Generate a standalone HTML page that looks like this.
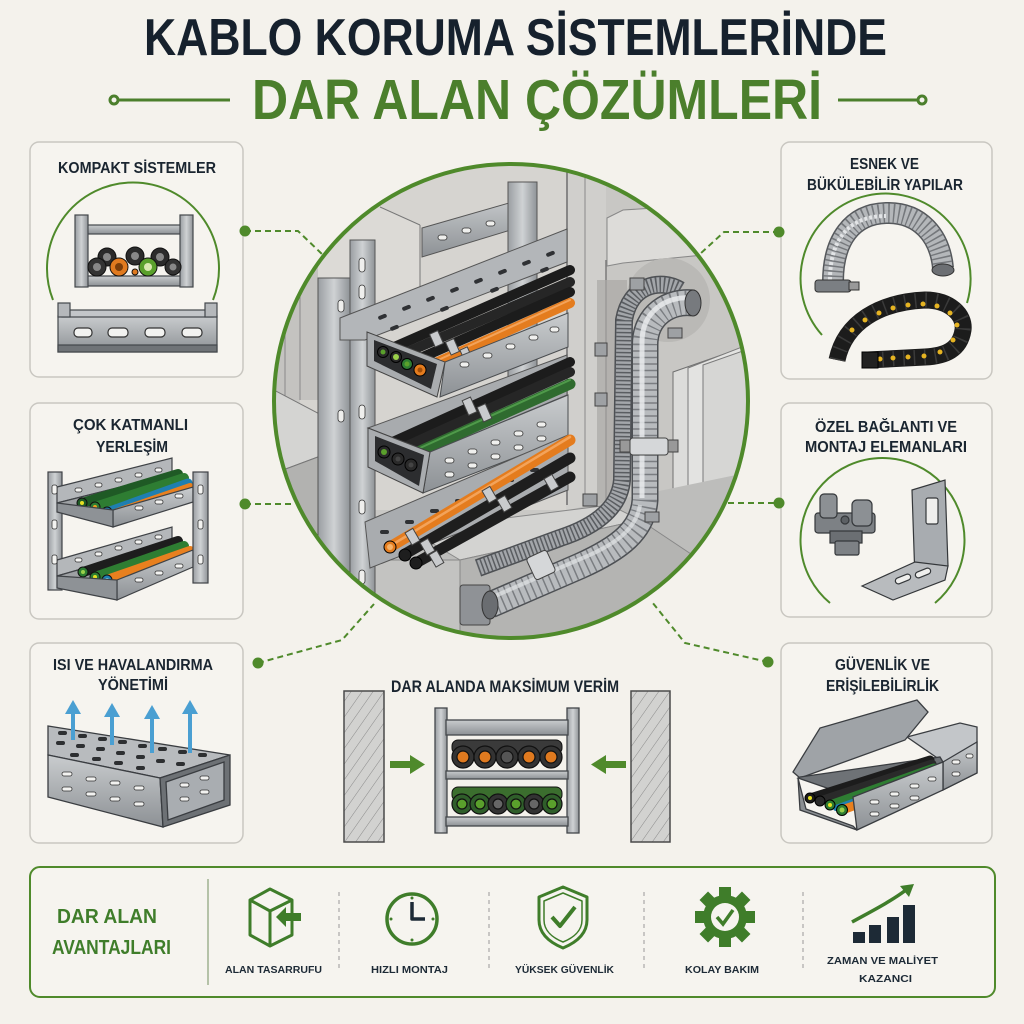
<!DOCTYPE html>
<html><head><meta charset="utf-8">
<style>
html,body{margin:0;padding:0;background:#f4f2ec;}
svg{display:block}
text{font-family:"Liberation Sans",sans-serif;font-weight:bold}
</style></head><body>
<svg width="1024" height="1024" viewBox="0 0 1024 1024" xmlns="http://www.w3.org/2000/svg">
<defs>
 <clipPath id="cc"><circle cx="511" cy="401" r="237"/></clipPath>
 <linearGradient id="metal" x1="0" y1="0" x2="0" y2="1"><stop offset="0" stop-color="#c9ccce"/><stop offset="1" stop-color="#8d9195"/></linearGradient>
 <linearGradient id="metalH" x1="0" y1="0" x2="1" y2="0"><stop offset="0" stop-color="#9a9ea2"/><stop offset=".5" stop-color="#cfd2d4"/><stop offset="1" stop-color="#8f9397"/></linearGradient>
 <pattern id="hatch" width="9" height="9" patternUnits="userSpaceOnUse" patternTransform="rotate(35)"><rect width="9" height="9" fill="#d2d2d0"/><line x1="0" y1="0" x2="0" y2="9" stroke="#8a8a8a" stroke-width="1"/></pattern>
</defs>
<rect width="1024" height="1024" fill="#f4f2ec"/>

<!-- TITLE -->
<text x="144" y="55" font-size="52" fill="#16212d" textLength="743" lengthAdjust="spacingAndGlyphs">KABLO KORUMA SİSTEMLERİNDE</text>
<text x="252" y="119" font-size="57" fill="#4b7f2c" textLength="570" lengthAdjust="spacingAndGlyphs">DAR ALAN ÇÖZÜMLERİ</text>
<g stroke="#4b7f2c" stroke-width="3" fill="#f4f2ec">
 <line x1="118" y1="100" x2="230" y2="100"/><circle cx="114" cy="100" r="4"/>
 <line x1="838" y1="100" x2="918" y2="100"/><circle cx="922" cy="100" r="4"/>
</g>

<!-- BOXES -->
<g fill="#f6f4ef" stroke="#c9c7c1" stroke-width="1.5">
 <rect x="30" y="142" width="213" height="235" rx="9"/>
 <rect x="30" y="403" width="213" height="216" rx="9"/>
 <rect x="30" y="643" width="213" height="200" rx="9"/>
 <rect x="781" y="142" width="211" height="237" rx="9"/>
 <rect x="781" y="403" width="211" height="214" rx="9"/>
 <rect x="781" y="643" width="211" height="200" rx="9"/>
</g>
<rect x="30" y="867" width="965" height="130" rx="10" fill="#f6f4ef" stroke="#4f8a2b" stroke-width="2"/>

<!-- CONNECTORS -->
<g stroke="#4f8a2b" stroke-width="2" stroke-dasharray="6 4" fill="none">
 <path d="M245,231 L298,231 L324,256"/>
 <path d="M779,232 L724,232 L700,254"/>
 <path d="M245,504 L294,504"/>
 <path d="M728,503 L779,503"/>
 <path d="M258,663 L342,640 L374,604"/>
 <path d="M768,662 L685,643 L652,602"/>
</g>
<g fill="#4f8a2b">
 <circle cx="245" cy="231" r="5.5"/><circle cx="779" cy="232" r="5.5"/>
 <circle cx="245" cy="504" r="5.5"/><circle cx="779" cy="503" r="5.5"/>
 <circle cx="258" cy="663" r="5.5"/><circle cx="768" cy="662" r="5.5"/>
</g>

<!-- PANEL TITLES -->
<g fill="#1a2530" font-size="16">
 <text x="58" y="173" textLength="158" lengthAdjust="spacingAndGlyphs">KOMPAKT SİSTEMLER</text>
 <text x="73" y="430" textLength="115" lengthAdjust="spacingAndGlyphs">ÇOK KATMANLI</text>
 <text x="96" y="452" textLength="72" lengthAdjust="spacingAndGlyphs">YERLEŞİM</text>
 <text x="53" y="670" textLength="160" lengthAdjust="spacingAndGlyphs">ISI VE HAVALANDIRMA</text>
 <text x="98" y="690" textLength="70" lengthAdjust="spacingAndGlyphs">YÖNETİMİ</text>
 <text x="850" y="169" textLength="69" lengthAdjust="spacingAndGlyphs">ESNEK VE</text>
 <text x="807" y="190" textLength="156" lengthAdjust="spacingAndGlyphs">BÜKÜLEBİLİR YAPILAR</text>
 <text x="815" y="432" textLength="142" lengthAdjust="spacingAndGlyphs">ÖZEL BAĞLANTI VE</text>
 <text x="805" y="452" textLength="162" lengthAdjust="spacingAndGlyphs">MONTAJ ELEMANLARI</text>
 <text x="835" y="670" textLength="95" lengthAdjust="spacingAndGlyphs">GÜVENLİK VE</text>
 <text x="826" y="691" textLength="113" lengthAdjust="spacingAndGlyphs">ERİŞİLEBİLİRLİK</text>
 <text x="391" y="692" font-size="17" textLength="228" lengthAdjust="spacingAndGlyphs">DAR ALANDA MAKSİMUM VERİM</text>
</g>

<!-- ===== LEFT BOX 1: KOMPAKT ===== -->
<path d="M53,300 A86,86 0 1,1 213,300" fill="none" stroke="#4f8a2b" stroke-width="2"/>
<g stroke="#43474b" stroke-width="1.2">
 <rect x="86" y="225" width="96" height="9" fill="url(#metal)"/>
 <rect x="86" y="276" width="96" height="10" fill="url(#metal)"/>
 <rect x="75" y="215" width="13" height="72" fill="url(#metalH)"/>
 <rect x="180" y="215" width="13" height="72" fill="url(#metalH)"/>
</g>
<g stroke="#111" stroke-width="1">
 <circle cx="107" cy="257" r="9" fill="#2b2b2b"/><circle cx="135" cy="256" r="9" fill="#2b2b2b"/><circle cx="160" cy="257" r="9" fill="#2b2b2b"/>
 <circle cx="97" cy="267" r="9" fill="#333"/><circle cx="119" cy="267" r="9" fill="#e07a1f"/>
 <circle cx="148" cy="267" r="9" fill="#5aa02c"/><circle cx="173" cy="267" r="8" fill="#333"/>
 <circle cx="135" cy="272" r="3" fill="#e07a1f"/>
</g>
<g fill="#888"><circle cx="97" cy="267" r="4"/><circle cx="107" cy="257" r="4"/><circle cx="135" cy="256" r="4"/><circle cx="160" cy="257" r="4"/><circle cx="173" cy="267" r="3.5"/></g>
<circle cx="119" cy="267" r="4" fill="#7a3d0a"/><circle cx="148" cy="267" r="4" fill="#d9e8b0"/>
<g stroke="#43474b" stroke-width="1.2">
 <rect x="58" y="316" width="159" height="36" fill="url(#metal)"/>
 <rect x="62" y="310" width="151" height="7" fill="#c3c6c9"/>
 <rect x="58" y="303" width="12" height="14" fill="#b5b8bb"/>
 <rect x="205" y="303" width="12" height="14" fill="#b5b8bb"/>
 <rect x="58" y="345" width="159" height="7" fill="#6f7377"/>
</g>
<g fill="#f2f2f0" stroke="#333" stroke-width="1.2">
 <rect x="74" y="328" width="18" height="9" rx="4"/><rect x="108" y="328" width="20" height="9" rx="4"/>
 <rect x="145" y="328" width="20" height="9" rx="4"/><rect x="182" y="328" width="20" height="9" rx="4"/>
</g>

<!-- ===== LEFT BOX 2: ÇOK KATMANLI ===== -->
<g stroke="#3f4246" stroke-width="1.2">
 <rect x="48" y="472" width="14" height="118" fill="url(#metalH)"/>
 <polygon points="57,487 172,458 172,474 57,503" fill="#b4b7ba"/>
 <polygon points="57,503 172,474 193,487 113,512" fill="#9ea1a4"/>
</g>
<g stroke-linecap="round">
 <line x1="82" y1="503" x2="178" y2="474" stroke="#1f5a25" stroke-width="10"/>
 <line x1="95" y1="507" x2="184" y2="478" stroke="#2e7d32" stroke-width="10"/>
 <line x1="107" y1="512" x2="188" y2="483" stroke="#1f7fb0" stroke-width="9"/>
 <line x1="112" y1="514" x2="190" y2="487" stroke="#e8801f" stroke-width="8"/>
</g>
<circle cx="82" cy="503" r="5" fill="#1f5a25" stroke="#111"/><circle cx="82" cy="503" r="2" fill="#e6e022"/>
<circle cx="95" cy="507" r="5" fill="#2e7d32" stroke="#111"/><circle cx="95" cy="507" r="2" fill="#f0a020"/>
<circle cx="107" cy="512" r="5" fill="#1f7fb0" stroke="#111"/><circle cx="107" cy="512" r="2" fill="#7fd0e0"/>
<g stroke="#3f4246" stroke-width="1.2">
 <polygon points="113,510 193,487 193,502 113,527" fill="url(#metal)"/>
 <polygon points="57,503 113,510 113,527 57,512" fill="#8e9296"/>
 <polygon points="57,560 172,527 172,543 57,576" fill="#b4b7ba"/>
 <polygon points="57,576 172,543 193,552 117,582" fill="#9ea1a4"/>
</g>
<g stroke-linecap="round">
 <line x1="83" y1="572" x2="178" y2="541" stroke="#1d1d1d" stroke-width="10"/>
 <line x1="95" y1="577" x2="184" y2="546" stroke="#2e7d32" stroke-width="10"/>
 <line x1="107" y1="580" x2="190" y2="551" stroke="#e8801f" stroke-width="10"/>
</g>
<circle cx="83" cy="572" r="5" fill="#2e7d32" stroke="#111"/><circle cx="83" cy="572" r="2" fill="#9ad04a"/>
<circle cx="95" cy="577" r="5" fill="#2e7d32" stroke="#111"/><circle cx="95" cy="577" r="2" fill="#e6e022"/>
<circle cx="107" cy="580" r="5" fill="#1f7fb0" stroke="#111"/><circle cx="107" cy="580" r="2" fill="#7fd0e0"/>
<g stroke="#3f4246" stroke-width="1.2">
 <polygon points="117,580 193,550 193,567 117,600" fill="url(#metal)"/>
 <polygon points="57,576 117,580 117,600 57,588" fill="#8e9296"/>
 <rect x="193" y="472" width="15" height="111" fill="url(#metalH)"/>
</g>
<g fill="#f3f3f1" stroke="#333" stroke-width=".8">
 <rect x="75" y="488" width="7" height="4" rx="2"/><rect x="95" y="483" width="7" height="4" rx="2"/><rect x="115" y="478" width="7" height="4" rx="2"/><rect x="135" y="473" width="7" height="4" rx="2"/><rect x="155" y="468" width="7" height="4" rx="2"/>
 <rect x="135" y="506" width="8" height="4" rx="2"/><rect x="155" y="500" width="8" height="4" rx="2"/><rect x="175" y="494" width="8" height="4" rx="2"/>
 <rect x="75" y="558" width="7" height="4" rx="2"/><rect x="95" y="552" width="7" height="4" rx="2"/><rect x="115" y="546" width="7" height="4" rx="2"/><rect x="135" y="540" width="7" height="4" rx="2"/><rect x="155" y="535" width="7" height="4" rx="2"/>
 <rect x="135" y="578" width="8" height="4" rx="2"/><rect x="155" y="571" width="8" height="4" rx="2"/><rect x="175" y="564" width="8" height="4" rx="2"/>
 <rect x="52" y="485" width="5" height="9" rx="2"/><rect x="52" y="520" width="5" height="9" rx="2"/><rect x="52" y="555" width="5" height="9" rx="2"/>
 <rect x="198" y="485" width="5" height="9" rx="2"/><rect x="198" y="520" width="5" height="9" rx="2"/><rect x="198" y="555" width="5" height="9" rx="2"/>
</g>

<!-- ===== LEFT BOX 3: ISI ===== -->
<g stroke="#3a3d41" stroke-width="1.3">
 <polygon points="48,726 230,755 160,778 48,755" fill="#b8bbbe"/>
 <polygon points="48,755 160,778 163,827 48,797" fill="url(#metal)"/>
 <polygon points="160,778 230,755 230,805 163,827" fill="#6d7175"/>
 <polygon points="166,782 224,762 224,800 168,820" fill="#a9adb1"/>
</g>
<g fill="#2d2f31">
 <rect x="58" y="731" width="9" height="4" rx="2"/><rect x="78" y="734" width="9" height="4" rx="2"/><rect x="98" y="737" width="9" height="4" rx="2"/><rect x="118" y="740" width="9" height="4" rx="2"/><rect x="138" y="744" width="9" height="4" rx="2"/><rect x="158" y="747" width="9" height="4" rx="2"/><rect x="178" y="750" width="9" height="4" rx="2"/><rect x="198" y="753" width="9" height="4" rx="2"/>
 <rect x="56" y="741" width="9" height="4" rx="2"/><rect x="76" y="744" width="9" height="4" rx="2"/><rect x="96" y="747" width="9" height="4" rx="2"/><rect x="116" y="751" width="9" height="4" rx="2"/><rect x="136" y="755" width="9" height="4" rx="2"/><rect x="156" y="759" width="9" height="4" rx="2"/><rect x="176" y="762" width="9" height="4" rx="2"/>
 <rect x="70" y="753" width="9" height="4" rx="2"/><rect x="92" y="757" width="9" height="4" rx="2"/><rect x="114" y="761" width="9" height="4" rx="2"/><rect x="136" y="766" width="9" height="4" rx="2"/>
</g>
<g fill="#f2f2f0" stroke="#333" stroke-width=".8">
 <rect x="62" y="772" width="10" height="4" rx="2"/><rect x="86" y="777" width="10" height="4" rx="2"/><rect x="110" y="781" width="10" height="4" rx="2"/><rect x="134" y="786" width="10" height="4" rx="2"/>
 <rect x="62" y="787" width="10" height="4" rx="2"/><rect x="86" y="792" width="10" height="4" rx="2"/><rect x="110" y="797" width="10" height="4" rx="2"/><rect x="134" y="802" width="10" height="4" rx="2"/>
 <rect x="180" y="783" width="9" height="4" rx="2"/><rect x="200" y="776" width="9" height="4" rx="2"/><rect x="180" y="797" width="9" height="4" rx="2"/><rect x="200" y="790" width="9" height="4" rx="2"/>
</g>
<g fill="#4a9fd2">
 <rect x="71" y="712" width="4" height="28"/><polygon points="65,714 73,700 81,714"/>
 <rect x="110" y="715" width="4" height="30"/><polygon points="104,717 112,703 120,717"/>
 <rect x="150" y="717" width="4" height="36"/><polygon points="144,719 152,705 160,719"/>
 <rect x="188" y="712" width="4" height="41"/><polygon points="182,714 190,700 198,714"/>
</g>

<!-- ===== RIGHT BOX 1: ESNEK ===== -->
<path d="M822,335 A85,85 0 1,1 967,303" fill="none" stroke="#4f8a2b" stroke-width="2"/>
<path d="M833,282 C833,240 852,214 886,213 C920,212 940,236 943,268" fill="none" stroke="#55585c" stroke-width="22"/>
<path d="M833,282 C833,240 852,214 886,213 C920,212 940,236 943,268" fill="none" stroke="#b4b7ba" stroke-width="19"/>
<path d="M833,282 C833,240 852,214 886,213 C920,212 940,236 943,268" fill="none" stroke="#75787c" stroke-width="19" stroke-dasharray="1.5 3.5"/>
<path d="M830,280 C830,238 850,216 886,216" fill="none" stroke="#e2e4e6" stroke-width="4" stroke-dasharray="3 2"/>
<ellipse cx="943" cy="270" rx="11" ry="6" fill="#6c6f73" stroke="#333"/>
<rect x="815" y="280" width="36" height="12" rx="3" fill="#7b7f83" stroke="#333"/>
<rect x="849" y="282" width="10" height="8" fill="#999" stroke="#333"/>
<path d="M837,360 C845,322 880,302 925,300 C950,300 965,315 963,330 C960,350 945,356 925,357 L868,360" fill="none" stroke="#1c1c1c" stroke-width="17"/>
<path d="M837,360 C845,322 880,302 925,300 C950,300 965,315 963,330 C960,350 945,356 925,357 L868,360" fill="none" stroke="#3a3a3a" stroke-width="15" stroke-dasharray="1.5 9"/>
<g fill="#e6b422">
 <circle cx="852" cy="330" r="2.5"/><circle cx="865" cy="320" r="2.5"/><circle cx="879" cy="313" r="2.5"/><circle cx="893" cy="308" r="2.5"/><circle cx="908" cy="305" r="2.5"/><circle cx="923" cy="304" r="2.5"/><circle cx="937" cy="306" r="2.5"/><circle cx="950" cy="313" r="2.5"/><circle cx="957" cy="325" r="2.5"/><circle cx="953" cy="340" r="2.5"/><circle cx="940" cy="352" r="2.5"/><circle cx="924" cy="356" r="2.5"/><circle cx="908" cy="357" r="2.5"/><circle cx="893" cy="358" r="2.5"/><circle cx="880" cy="359" r="2.5"/>
</g>
<rect x="862" y="352" width="16" height="16" fill="#222" stroke="#000"/>

<!-- ===== RIGHT BOX 2: ÖZEL ===== -->
<path d="M830,603 A82,82 0 1,1 935,603" fill="none" stroke="#4f8a2b" stroke-width="2"/>
<g stroke="#34373a" stroke-width="1.2">
 <rect x="815" y="513" width="60" height="20" rx="3" fill="#7d8185"/>
 <rect x="820" y="494" width="17" height="24" rx="4" fill="#8c9094"/>
 <rect x="852" y="500" width="20" height="26" rx="5" fill="#8c9094"/>
 <rect x="830" y="531" width="32" height="12" fill="#6b6f73"/>
 <rect x="835" y="541" width="24" height="14" rx="2" fill="#7d8185"/>
 <circle cx="845" cy="520" r="4" fill="#5c6064"/>
 <polygon points="912,490 945,480 948,566 915,580" fill="#a8acb0"/>
 <rect x="926" y="498" width="12" height="26" rx="2" fill="#efefed"/>
 <polygon points="862,586 915,562 948,566 945,580 893,600" fill="#b8bbbe"/>
 <rect x="895" y="576" width="16" height="6" rx="3" fill="#efefed" transform="rotate(-22 903 579)"/>
 <rect x="915" y="570" width="16" height="6" rx="3" fill="#efefed" transform="rotate(-22 923 573)"/>
</g>

<!-- ===== RIGHT BOX 3: GÜVENLİK ===== -->
<g stroke="#3a3d41" stroke-width="1.3">
 <polygon points="907,737 960,723 977,727 977,773 943,790 943,762" fill="#c3c6c9"/>
 <polygon points="943,762 977,742 977,773 943,790" fill="url(#metal)"/>
 <polygon points="793,772 820,728 917,700 928,712 905,740 800,778" fill="#9fa3a7"/>
 <polygon points="800,777 940,757 943,762 853,797 798,778" fill="#6e7276"/>
</g>
<g stroke-linecap="round">
 <line x1="810" y1="798" x2="930" y2="760" stroke="#1c1c1c" stroke-width="9"/>
 <line x1="820" y1="801" x2="932" y2="764" stroke="#2a2a2a" stroke-width="9"/>
 <line x1="830" y1="805" x2="934" y2="768" stroke="#2e7d32" stroke-width="9"/>
 <line x1="836" y1="808" x2="936" y2="772" stroke="#1f7fb0" stroke-width="6"/>
 <line x1="842" y1="810" x2="938" y2="776" stroke="#e8801f" stroke-width="9"/>
</g>
<circle cx="810" cy="798" r="5" fill="#1c1c1c" stroke="#000"/><circle cx="810" cy="798" r="2" fill="#e6e022"/>
<circle cx="820" cy="801" r="5" fill="#2a2a2a" stroke="#000"/>
<circle cx="830" cy="805" r="5" fill="#2e7d32" stroke="#000"/><circle cx="830" cy="805" r="2" fill="#e6e022"/>
<circle cx="842" cy="810" r="5.5" fill="#2e7d32" stroke="#000"/><circle cx="842" cy="810" r="2.5" fill="#9ad04a"/>
<g stroke="#3a3d41" stroke-width="1.3">
 <polygon points="853,797 943,762 943,790 857,830" fill="url(#metal)"/>
 <polygon points="798,778 800,810 857,830 853,826 806,809" fill="#8a8e92"/>
</g>
<g fill="#f2f2f0" stroke="#333" stroke-width=".8">
 <rect x="870" y="800" width="9" height="4" rx="2"/><rect x="890" y="792" width="9" height="4" rx="2"/><rect x="910" y="784" width="9" height="4" rx="2"/><rect x="928" y="777" width="8" height="4" rx="2"/>
 <rect x="870" y="812" width="9" height="4" rx="2"/><rect x="890" y="804" width="9" height="4" rx="2"/><rect x="910" y="796" width="9" height="4" rx="2"/>
 <rect x="952" y="760" width="8" height="4" rx="2"/><rect x="952" y="772" width="8" height="4" rx="2"/><rect x="966" y="754" width="7" height="4" rx="2"/>
</g>

<!-- ===== CENTER BOTTOM: MAKSİMUM VERİM ===== -->
<rect x="344" y="691" width="40" height="151" fill="url(#hatch)" stroke="#4a4a4a" stroke-width="1.5"/>
<rect x="631" y="691" width="39" height="151" fill="url(#hatch)" stroke="#4a4a4a" stroke-width="1.5"/>
<g fill="#4f8a2b">
 <rect x="390" y="761" width="22" height="7"/><polygon points="410,755 425,764.5 410,774"/>
 <rect x="604" y="761" width="22" height="7"/><polygon points="606,755 591,764.5 606,774"/>
</g>
<g stroke="#43474b" stroke-width="1.3">
 <rect x="435" y="708" width="12" height="125" fill="url(#metalH)"/>
 <rect x="567" y="708" width="12" height="125" fill="url(#metalH)"/>
 <rect x="446" y="720" width="122" height="15" fill="url(#metal)"/>
 <rect x="446" y="771" width="122" height="8" fill="url(#metal)"/>
 <rect x="446" y="817" width="122" height="9" fill="url(#metal)"/>
</g>
<g stroke="#111" stroke-width="1">
 <rect x="452" y="740" width="110" height="14" rx="6" fill="#3a3a3a"/>
 <rect x="452" y="787" width="110" height="14" rx="6" fill="#3b6e2e"/>
</g>
<g stroke="#111" stroke-width="1.2">
 <circle cx="463" cy="757" r="11" fill="#333"/><circle cx="485" cy="757" r="11" fill="#333"/><circle cx="507" cy="757" r="11" fill="#333"/><circle cx="529" cy="757" r="11" fill="#333"/><circle cx="551" cy="757" r="11" fill="#333"/>
 <circle cx="463" cy="757" r="6" fill="#e07a1f"/><circle cx="485" cy="757" r="6" fill="#e07a1f"/><circle cx="507" cy="757" r="6" fill="#555"/><circle cx="529" cy="757" r="6" fill="#e07a1f"/><circle cx="551" cy="757" r="6" fill="#e07a1f"/>
 <circle cx="462" cy="804" r="10" fill="#2f5e2a"/><circle cx="480" cy="804" r="10" fill="#2f5e2a"/><circle cx="498" cy="804" r="10" fill="#333"/><circle cx="516" cy="804" r="10" fill="#2f5e2a"/><circle cx="534" cy="804" r="10" fill="#333"/><circle cx="552" cy="804" r="10" fill="#2f5e2a"/>
 <circle cx="462" cy="804" r="5" fill="#5aa02c"/><circle cx="480" cy="804" r="5" fill="#5aa02c"/><circle cx="498" cy="804" r="5" fill="#666"/><circle cx="516" cy="804" r="5" fill="#5aa02c"/><circle cx="534" cy="804" r="5" fill="#666"/><circle cx="552" cy="804" r="5" fill="#5aa02c"/>
</g>

<!-- ===== CENTRAL CIRCLE ===== -->
<g clip-path="url(#cc)">
 <rect x="270" y="160" width="485" height="485" fill="#c9c8c5"/>
 <rect x="300" y="160" width="268" height="350" fill="#d6d4d0"/>
 <polygon points="300,160 380,207 420,225 420,300 300,300" fill="#dcdad6"/>
 <line x1="380" y1="207" x2="420" y2="225" stroke="#777" stroke-width="1"/>
 <line x1="420" y1="225" x2="420" y2="290" stroke="#777" stroke-width="1"/>
 <rect x="270" y="160" width="48" height="240" fill="#c4c3c0"/>
 <line x1="285" y1="240" x2="285" y2="400" stroke="#8a8a8a"/><line x1="300" y1="230" x2="300" y2="400" stroke="#8a8a8a"/>
 <polygon points="270,388 350,430 350,445 283,470 270,462" fill="#d4d4d2" stroke="#777"/>
 <polygon points="283,470 350,445 350,645 283,645" fill="#b2b2b0" stroke="#777"/>
 <polygon points="270,462 283,470 283,645 270,645" fill="#a5a5a3"/>
 <rect x="566" y="150" width="40" height="360" fill="#d0cfcc"/>
 <line x1="567" y1="150" x2="567" y2="505" stroke="#6f6f6f" stroke-width="1.5"/>
 <line x1="585" y1="150" x2="585" y2="505" stroke="#8a8a8a" stroke-width="1"/>
 <rect x="606" y="150" width="150" height="420" fill="#c8c7c4"/>
 <line x1="606" y1="260" x2="606" y2="560" stroke="#7a7a7a" stroke-width="1.5"/>
 <polygon points="607,218 623,210 703,205 703,255 623,263 607,266" fill="#dddcd9" stroke="#888"/>
 <ellipse cx="668" cy="300" rx="42" ry="42" fill="#bab9b6"/>
 <path d="M612,280 L612,520 Q612,540 600,545 L560,560" fill="none" stroke="#a9a8a5" stroke-width="30" opacity=".7"/>
 <polygon points="673,372 750,345 760,345 760,600 673,580" fill="#dcdcda" stroke="#6f6f6f"/>
 <polygon points="688,368 760,340 760,600 688,583" fill="#e3e3e1" stroke="#7a7a7a"/>
 <polygon points="703,365 760,345 760,600 703,588" fill="#d6d6d4" stroke="#7a7a7a"/>
 <polygon points="370,540 520,520 760,470 760,645 370,645" fill="#bdbdbb"/>
 <polygon points="410,530 610,505 640,520 460,560" fill="#d3d3d1" stroke="#888"/>
 <polygon points="370,560 460,560 460,645 370,645" fill="#c3c3c1" stroke="#888"/>
 <polygon points="460,560 640,520 700,560 700,645 460,645" fill="#b4b4b2" stroke="#888"/>
 <polygon points="422,228 537,195 537,222 422,257" fill="url(#metal)" stroke="#555"/>
 <g fill="#efefed" stroke="#333" stroke-width=".8"><rect x="438" y="235" width="9" height="5" rx="2.5"/><rect x="462" y="228" width="9" height="5" rx="2.5"/><rect x="486" y="221" width="9" height="5" rx="2.5"/><rect x="510" y="214" width="9" height="5" rx="2.5"/></g>
 <rect x="508" y="182" width="29" height="200" fill="url(#metalH)" stroke="#555"/>
 <rect x="318" y="278" width="32" height="360" fill="url(#metalH)" stroke="#555"/>
 <rect x="350" y="240" width="25" height="380" fill="url(#metalH)" stroke="#555"/>
 <g fill="#efefed" stroke="#333" stroke-width=".8">
  <rect x="359" y="258" width="6" height="14" rx="3"/><rect x="359" y="285" width="6" height="14" rx="3"/><rect x="359" y="405" width="6" height="14" rx="3"/><rect x="359" y="500" width="6" height="14" rx="3"/><rect x="359" y="570" width="6" height="14" rx="3"/>
  <rect x="338" y="300" width="6" height="12" rx="3"/><rect x="338" y="410" width="6" height="12" rx="3"/>
 </g>
 <!-- TRAY 1 -->
 <polygon points="340,318 567,229 567,262 365,340 340,340" fill="#b3b6b9" stroke="#555"/>
 <g fill="#2f3134"><rect x="378" y="315" width="9" height="4" rx="2" transform="rotate(-21 382 317)"/><rect x="402" y="306" width="9" height="4" rx="2" transform="rotate(-21 406 308)"/><rect x="426" y="297" width="9" height="4" rx="2" transform="rotate(-21 430 299)"/><rect x="450" y="288" width="9" height="4" rx="2" transform="rotate(-21 454 290)"/><rect x="474" y="279" width="9" height="4" rx="2" transform="rotate(-21 478 281)"/><rect x="498" y="270" width="9" height="4" rx="2" transform="rotate(-21 502 272)"/><rect x="522" y="261" width="9" height="4" rx="2" transform="rotate(-21 526 263)"/><rect x="546" y="252" width="9" height="4" rx="2" transform="rotate(-21 550 254)"/>
 <rect x="390" y="326" width="9" height="4" rx="2" transform="rotate(-21 394 328)"/><rect x="440" y="307" width="9" height="4" rx="2" transform="rotate(-21 444 309)"/><rect x="490" y="288" width="9" height="4" rx="2" transform="rotate(-21 494 290)"/><rect x="540" y="268" width="9" height="4" rx="2" transform="rotate(-21 544 270)"/></g>
 <g stroke-linecap="round">
  <line x1="383" y1="352" x2="570" y2="270" stroke="#1c1c1c" stroke-width="10"/>
  <line x1="396" y1="357" x2="570" y2="282" stroke="#262626" stroke-width="10"/>
  <line x1="407" y1="364" x2="570" y2="292" stroke="#1c1c1c" stroke-width="10"/>
  <line x1="420" y1="370" x2="570" y2="303" stroke="#e47c1e" stroke-width="10"/>
  <line x1="425" y1="366" x2="570" y2="300" stroke="#f3a35a" stroke-width="2"/>
 </g>
 <g fill="#c9cbcd" stroke="#444" stroke-width="1"><rect x="432" y="332" width="9" height="14" transform="rotate(-24 436 339)"/><rect x="448" y="340" width="9" height="14" transform="rotate(-24 452 347)"/><rect x="462" y="348" width="8" height="13" transform="rotate(-24 466 354)"/></g>
 <polygon points="445,362 568,313 568,347 440,397" fill="url(#metal)" stroke="#4a4d50"/>
 <g fill="#f0f0ee" stroke="#333" stroke-width=".8"><rect x="460" y="362" width="9" height="5" rx="2.5"/><rect x="483" y="353" width="9" height="5" rx="2.5"/><rect x="506" y="344" width="9" height="5" rx="2.5"/><rect x="529" y="335" width="9" height="5" rx="2.5"/><rect x="550" y="327" width="9" height="5" rx="2.5"/></g>
 <polygon points="367,332 445,362 437,397 367,366" fill="#a9acaf" stroke="#444"/>
 <polygon points="374,340 437,364 431,389 374,361" fill="#2c2d2f"/>
 <circle cx="383" cy="352" r="5.5" fill="#2a2a2a" stroke="#000"/><circle cx="383" cy="352" r="2.5" fill="#5aa02c"/>
 <circle cx="396" cy="357" r="5.5" fill="#2a2a2a" stroke="#000"/><circle cx="396" cy="357" r="3" fill="#9ad04a"/>
 <circle cx="407" cy="364" r="5.5" fill="#2e7d32" stroke="#000"/><circle cx="407" cy="364" r="2.5" fill="#5aa02c"/>
 <circle cx="420" cy="370" r="6" fill="#e47c1e" stroke="#000"/><circle cx="420" cy="370" r="2.5" fill="#a34e08"/>
 <!-- TRAY 2 -->
 <polygon points="368,428 567,355 567,395 430,452" fill="#a8abae" stroke="#555"/>
 <g stroke-linecap="round">
  <line x1="386" y1="445" x2="570" y2="362" stroke="#1c1c1c" stroke-width="10"/>
  <line x1="398" y1="450" x2="570" y2="372" stroke="#262626" stroke-width="10"/>
  <line x1="418" y1="452" x2="570" y2="384" stroke="#2f6b2f" stroke-width="11"/>
  <line x1="420" y1="448" x2="570" y2="380" stroke="#4f9a4a" stroke-width="2"/>
 </g>
 <g fill="#c9cbcd" stroke="#444" stroke-width="1"><rect x="465" y="398" width="9" height="16" transform="rotate(-24 470 406)"/><rect x="480" y="405" width="9" height="16" transform="rotate(-24 484 413)"/></g>
 <polygon points="430,452 568,395 568,437 423,493" fill="url(#metal)" stroke="#4a4d50"/>
 <g fill="#f0f0ee" stroke="#333" stroke-width=".8"><rect x="445" y="458" width="9" height="5" rx="2.5"/><rect x="468" y="449" width="9" height="5" rx="2.5"/><rect x="491" y="440" width="9" height="5" rx="2.5"/><rect x="514" y="431" width="9" height="5" rx="2.5"/><rect x="537" y="422" width="9" height="5" rx="2.5"/>
 <rect x="445" y="472" width="9" height="5" rx="2.5"/><rect x="468" y="463" width="9" height="5" rx="2.5"/><rect x="491" y="454" width="9" height="5" rx="2.5"/><rect x="514" y="445" width="9" height="5" rx="2.5"/><rect x="537" y="436" width="9" height="5" rx="2.5"/></g>
 <polygon points="368,428 430,452 423,493 368,467" fill="#a9acaf" stroke="#444"/>
 <polygon points="375,436 424,455 419,486 375,461" fill="#2c2d2f"/>
 <circle cx="384" cy="452" r="6" fill="#2a2a2a" stroke="#000"/><circle cx="384" cy="452" r="3" fill="#5aa02c"/>
 <circle cx="398" cy="459" r="6" fill="#2a2a2a" stroke="#000"/><circle cx="398" cy="459" r="2.5" fill="#444"/>
 <circle cx="411" cy="465" r="6" fill="#2a2a2a" stroke="#000"/><circle cx="411" cy="465" r="2.5" fill="#444"/>
 <!-- TRAY 3 -->
 <polygon points="365,522 568,435 568,490 370,568" fill="#a9acaf" stroke="#555"/>
 <g fill="#2f3134"><rect x="380" y="530" width="9" height="4" rx="2"/><rect x="405" y="520" width="9" height="4" rx="2"/><rect x="430" y="509" width="9" height="4" rx="2"/><rect x="455" y="499" width="9" height="4" rx="2"/><rect x="480" y="488" width="9" height="4" rx="2"/><rect x="505" y="478" width="9" height="4" rx="2"/><rect x="530" y="468" width="9" height="4" rx="2"/></g>
 <g stroke-linecap="round">
  <line x1="390" y1="547" x2="570" y2="440" stroke="#e47c1e" stroke-width="11"/>
  <line x1="395" y1="543" x2="570" y2="437" stroke="#f3a35a" stroke-width="2.5"/>
  <line x1="405" y1="554" x2="570" y2="458" stroke="#1e1e1e" stroke-width="11"/>
  <line x1="416" y1="563" x2="570" y2="477" stroke="#1e1e1e" stroke-width="11"/>
 </g>
 <circle cx="390" cy="547" r="6" fill="#e47c1e" stroke="#000"/><circle cx="390" cy="547" r="3" fill="#f6b36a"/>
 <circle cx="405" cy="555" r="6" fill="#1e1e1e" stroke="#000"/>
 <circle cx="416" cy="563" r="6" fill="#1e1e1e" stroke="#000"/>
 <g fill="#c9cbcd" stroke="#444" stroke-width="1">
  <rect x="408" y="530" width="9" height="14" transform="rotate(-30 412 537)"/><rect x="423" y="540" width="9" height="14" transform="rotate(-30 427 547)"/><rect x="432" y="552" width="9" height="14" transform="rotate(-30 436 559)"/>
  <rect x="485" y="488" width="9" height="14" transform="rotate(-30 489 495)"/><rect x="500" y="497" width="9" height="14" transform="rotate(-30 504 504)"/><rect x="547" y="476" width="9" height="14" transform="rotate(-30 551 483)"/>
 </g>
 <!-- CONDUITS -->
 <path d="M680,290 C660,278 630,285 624,320 L622,480 C620,505 600,525 560,538 L478,568" fill="none" stroke="#4d5054" stroke-width="18"/>
 <path d="M680,290 C660,278 630,285 624,320 L622,480 C620,505 600,525 560,538 L478,568" fill="none" stroke="#a3a6aa" stroke-width="15"/>
 <path d="M680,290 C660,278 630,285 624,320 L622,480 C620,505 600,525 560,538 L478,568" fill="none" stroke="#5a5d61" stroke-width="15" stroke-dasharray="1.5 2.5"/>
 <path d="M693,303 C670,300 645,315 645,345 L645,500 C643,530 620,548 580,566 L490,605" fill="none" stroke="#4d5054" stroke-width="27"/>
 <path d="M693,303 C670,300 645,315 645,345 L645,500 C643,530 620,548 580,566 L490,605" fill="none" stroke="#b8bbbe" stroke-width="24"/>
 <path d="M693,303 C670,300 645,315 645,345 L645,500 C643,530 620,548 580,566 L490,605" fill="none" stroke="#7a7d81" stroke-width="24" stroke-dasharray="1.5 5"/>
 <path d="M690,298 C668,296 642,310 642,342 L642,498" fill="none" stroke="#e8eaec" stroke-width="5" opacity=".85"/>
 <path d="M640,505 C636,530 615,545 578,560 L495,596" fill="none" stroke="#e0e2e4" stroke-width="4" opacity=".7"/>
 <ellipse cx="693" cy="303" rx="8" ry="13" fill="#777a7e" stroke="#333"/>
 <rect x="630" y="438" width="38" height="17" rx="3" fill="#d5d7d9" stroke="#444"/>
 <rect x="620" y="440" width="10" height="12" fill="#999" stroke="#444"/><rect x="668" y="440" width="10" height="12" fill="#999" stroke="#444"/>
 <g fill="#9ea1a4" stroke="#444"><rect x="595" y="343" width="12" height="13"/><rect x="595" y="393" width="12" height="13"/><rect x="583" y="494" width="14" height="12"/><rect x="630" y="278" width="14" height="12"/><rect x="668" y="328" width="14" height="10"/><rect x="645" y="512" width="14" height="10"/></g>
 <rect x="530" y="553" width="22" height="24" rx="3" fill="#d5d7d9" stroke="#444" transform="rotate(-25 541 565)"/>
 <rect x="460" y="585" width="30" height="40" rx="3" fill="#8f9296" stroke="#444"/>
 <ellipse cx="490" cy="605" rx="8" ry="14" fill="#6a6d71" stroke="#333"/>
</g>
<circle cx="511" cy="401" r="237" fill="none" stroke="#4f8a2b" stroke-width="4"/>

<!-- ===== BOTTOM PANEL ===== -->
<text x="57" y="923" font-size="20" fill="#3f7d2a" textLength="100" lengthAdjust="spacingAndGlyphs">DAR ALAN</text>
<text x="52" y="954" font-size="20" fill="#3f7d2a" textLength="119" lengthAdjust="spacingAndGlyphs">AVANTAJLARI</text>
<line x1="208" y1="879" x2="208" y2="985" stroke="#8aa07a" stroke-width="1.2"/>
<g stroke="#999" stroke-width="1" stroke-dasharray="4 4">
 <line x1="339" y1="892" x2="339" y2="972"/><line x1="489" y1="892" x2="489" y2="972"/>
 <line x1="644" y1="892" x2="644" y2="972"/><line x1="803" y1="892" x2="803" y2="972"/>
</g>
<g stroke="#3f7d2a" stroke-width="3" fill="none" stroke-linejoin="round">
 <polygon points="270,889 292,900 292,935 270,946 250,935 250,900"/>
 <polyline points="250,900 270,911 292,900"/><line x1="270" y1="911" x2="270" y2="946"/>
 <circle cx="412" cy="919" r="25" stroke-width="3.5"/>
 <polyline points="412,902 412,919 425,919" stroke="#1d2a36" stroke-width="3.5"/>
 <path d="M563,887 L587,897 L587,920 C587,935 575,943 563,948 C551,943 539,935 539,920 L539,897 Z"/>
 <path d="M563,893 L582,901 L582,920 C582,931 573,938 563,942 C553,938 544,931 544,920 L544,901 Z" stroke-width="1.5"/>
 <polyline points="552,917 560,926 575,907" stroke-width="4"/>
</g>
<g fill="#3f7d2a">
 <rect x="283" y="913" width="18" height="8"/><polygon points="286,907 276,917 286,927"/>
 <circle cx="412" cy="898" r="1.5"/><circle cx="412" cy="940" r="1.5"/><circle cx="391" cy="919" r="1.5"/><circle cx="433" cy="919" r="1.5"/>
 <circle cx="725" cy="917" r="22"/>
 <g transform="translate(725 917)">
  <rect x="-6" y="-30" width="12" height="10"/>
  <rect x="-6" y="20" width="12" height="10"/>
  <rect x="-30" y="-6" width="10" height="12"/>
  <rect x="20" y="-6" width="10" height="12"/>
  <rect x="-6" y="-30" width="12" height="10" transform="rotate(45)"/>
  <rect x="-6" y="-30" width="12" height="10" transform="rotate(135)"/>
  <rect x="-6" y="-30" width="12" height="10" transform="rotate(225)"/>
  <rect x="-6" y="-30" width="12" height="10" transform="rotate(315)"/>
 </g>
</g>
<circle cx="725" cy="917" r="14" fill="#f6f4ef"/>
<polyline points="717,917 723,924 733,910" fill="none" stroke="#3f7d2a" stroke-width="3.5"/>
<g fill="#1d2a36">
 <rect x="853" y="932" width="12" height="11"/><rect x="869" y="925" width="12" height="18"/>
 <rect x="887" y="917" width="12" height="26"/><rect x="903" y="905" width="12" height="38"/>
</g>
<path d="M852,922 C870,912 890,902 906,890" fill="none" stroke="#3f7d2a" stroke-width="3.5"/>
<polygon points="900,886 914,884 909,897" fill="#3f7d2a"/>
<g fill="#1d2a36" font-size="10">
 <text x="225" y="973" textLength="97" lengthAdjust="spacingAndGlyphs">ALAN TASARRUFU</text>
 <text x="371" y="973" textLength="77" lengthAdjust="spacingAndGlyphs">HIZLI MONTAJ</text>
 <text x="515" y="973" textLength="99" lengthAdjust="spacingAndGlyphs">YÜKSEK GÜVENLİK</text>
 <text x="685" y="973" textLength="74" lengthAdjust="spacingAndGlyphs">KOLAY BAKIM</text>
 <text x="827" y="964" textLength="111" lengthAdjust="spacingAndGlyphs">ZAMAN VE MALİYET</text>
 <text x="859" y="982" textLength="53" lengthAdjust="spacingAndGlyphs">KAZANCI</text>
</g>
</svg>
</body></html>
